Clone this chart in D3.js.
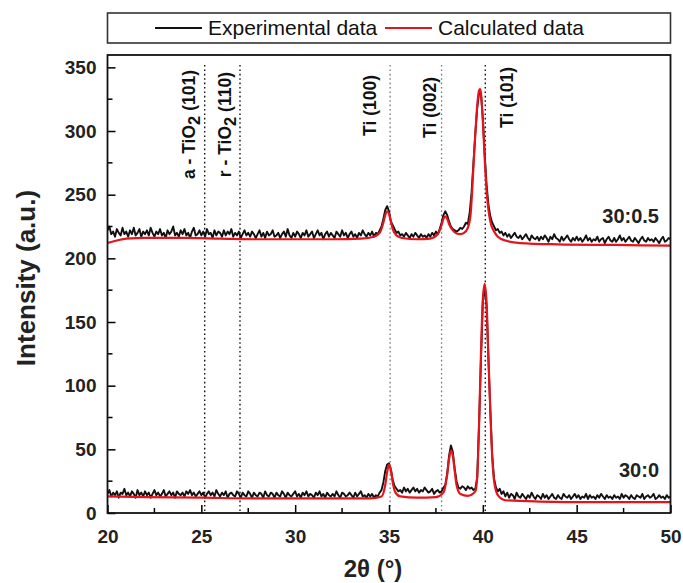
<!DOCTYPE html>
<html><head><meta charset="utf-8">
<script src="https://cdn.jsdelivr.net/npm/d3@7"></script>
<style>body{margin:0;background:#fff}svg{display:block}text{font-family:"Liberation Sans",Arial,sans-serif}</style>
</head><body><svg id="c" width="683" height="583"></svg>
<script>
// ---- data ----
const xStart = 20, xStep = 0.1;
// Experimental data, sample 30:0.5 (20.0 .. 50.0 by 0.1)
const exp05 = [
222,225,219,221,217,223,220,218,224,219,
221,217,222,219,224,218,220,223,217,221,
219,222,218,224,220,217,221,219,223,218,
220,216,222,219,221,225,218,220,217,222,
219,223,218,220,216,221,224,218,219,222,
218,221,217,223,219,220,216,222,218,221,
220,217,222,218,221,219,223,217,220,218,
221,216,219,222,218,220,217,221,219,216,
219,222,217,220,216,221,218,219,222,217,
218,220,216,219,221,217,223,218,216,220,
217,221,219,216,220,218,222,217,219,221,
216,219,222,218,220,215,219,221,217,220,
218,216,221,219,217,222,218,220,216,219,
221,217,219,216,220,218,222,219,217,220,
218,221,217,220,219,222,225,231,238,241,
237,229,226,223,220,221,218,219,217,220,
218,216,219,217,220,218,216,219,217,218,
216,219,217,220,218,221,219,223,228,234,
237,234,229,225,223,222,221,222,224,223,
225,228,227,236,252,275,298,318,330,329,
310,282,258,242,233,228,225,222,223,220,
221,218,220,217,219,216,218,220,217,216,
218,215,217,219,216,214,218,216,215,217,
214,217,215,218,216,213,217,215,219,216,
215,213,217,214,216,218,215,213,216,214,
217,214,216,213,215,218,214,216,213,215,
214,217,213,215,216,212,215,217,214,213,
216,213,215,218,214,216,213,215,217,214,
213,216,214,212,215,217,214,213,216,214,
215,213,216,214,212,215,217,213,214,216,
215];
// Experimental data, sample 30:0
const exp00 = [
15,18,13,16,14,17,12,16,15,19,
14,16,13,17,15,12,18,14,16,13,
17,14,16,12,15,18,14,16,13,15,
18,13,15,17,14,16,12,17,15,14,
16,13,17,15,18,14,16,13,15,17,
14,16,12,15,17,14,16,13,18,15,
13,16,14,17,12,15,16,14,13,17,
15,12,16,14,13,17,15,12,16,14,
13,16,15,12,17,14,13,16,15,12,
16,14,13,17,15,12,16,14,13,15,
17,13,15,12,16,14,17,13,15,14,
12,16,14,17,13,15,12,16,14,13,
15,13,17,14,12,16,15,13,14,16,
14,12,16,13,15,17,13,14,12,15,
13,15,12,14,13,16,18,24,33,38,
39,34,26,21,19,17,18,16,20,17,
19,16,18,20,17,19,16,18,17,20,
18,16,17,19,15,17,18,16,17,20,
22,31,45,53,48,35,25,20,19,21,
20,18,21,19,20,18,19,28,70,120,
165,178,162,120,80,45,27,20,17,19,
15,17,13,16,12,15,14,11,16,13,
12,15,13,11,14,12,16,13,11,14,
13,11,15,12,14,11,13,15,12,11,
14,12,11,15,13,12,14,11,13,15,
12,14,11,13,12,15,11,14,12,13,
11,14,12,15,13,11,14,12,13,11,
14,12,13,11,15,12,14,13,11,14,
12,11,14,13,12,15,11,13,14,12,
13,15,11,12,14,12,13,11,14,12,
13];
// Calculated data [2θ, intensity]
const calc05 = [[20,212],[20.5,214],[21,215.5],[22,216],[24,216],[26,215.5],[28,215],[30,215],[32,215],[33.5,215.5],[34.2,217],[34.5,220],[34.7,228],[34.8,234],[34.9,237],[35.0,235],[35.1,229],[35.2,223],[35.4,218],[35.7,216],[36.5,215],[37.2,215.5],[37.6,219],[37.8,226],[37.9,231],[38.0,233],[38.1,231],[38.2,227],[38.4,222],[38.6,219.5],[38.8,219],[39.0,220],[39.2,224],[39.35,235],[39.5,272],[39.6,298],[39.7,320],[39.8,332],[39.85,333],[39.9,330],[40.0,308],[40.1,278],[40.2,253],[40.3,238],[40.4,229],[40.6,221],[40.8,217],[41.2,214],[42,212],[44,211],[47,210.5],[50,210]];
const calc00 = [[20,13],[22,12.5],[25,12],[28,11.5],[31,11.5],[34,11.5],[34.6,13],[34.8,22],[34.9,32],[35.0,38],[35.1,34],[35.2,24],[35.35,16],[35.6,13],[36.5,12],[37.5,12.5],[37.9,16],[38.1,30],[38.2,42],[38.3,49],[38.4,45],[38.5,33],[38.6,22],[38.8,15],[39.2,13.5],[39.6,17],[39.7,28],[39.8,70],[39.9,125],[40.0,168],[40.1,180],[40.2,165],[40.3,122],[40.4,80],[40.5,44],[40.6,25],[40.8,14],[41.2,10],[43,9],[46,8.5],[50,8.5]];
// Reference lines
const refPos = [25.18, 27.06, 35.06, 37.80, 40.13];
const refLabels = [["a - TiO","2"," (101)"],["r - TiO","2"," (110)"],["Ti (100)"],["Ti (002)"],["Ti (101)"]];
const refColors = ["#000","#000","#777","#777","#000"];
const sampleLabels = ["30:0.5","30:0"];
const xTicks = [20,25,30,35,40,45,50];
const yTicks = [0,50,100,150,200,250,300,350];
const legendLabels = ["Experimental data","Calculated data"];
const seriesColors = ["#111","#e3141c"];

// ---- drawing ----
const svg = d3.select("#c");
const x = d3.scaleLinear().domain([20,50]).range([107.5,670.5]);
const y = d3.scaleLinear().domain([0,359.7]).range([513,55]);
const L=x.range()[0], R=x.range()[1], T=y.range()[1], B=y.range()[0];

// legend
const lg = svg.append("g");
lg.append("rect").attr("x",L).attr("y",13).attr("width",R-L).attr("height",30)
  .attr("fill","none").attr("stroke","#333").attr("stroke-width",1.6);
const legX = [155,385];
legendLabels.forEach((t,i)=>{
  lg.append("line").attr("x1",legX[i]).attr("x2",legX[i]+47).attr("y1",28).attr("y2",28)
    .attr("stroke",seriesColors[i]).attr("stroke-width",2);
  lg.append("text").attr("x",legX[i]+53).attr("y",35).attr("font-size",21)
    .attr("fill","#111").text(t);
});

// reference lines
refPos.forEach((p,i)=>{
  svg.append("line").attr("x1",x(p)).attr("x2",x(p)).attr("y1",T+10).attr("y2",B)
    .attr("stroke",refColors[i]).attr("stroke-width",1.3).attr("stroke-dasharray","1.6,2.8");
});
const labX = [-10,-9,-14,-6,28];
const labTop = [70,72,75,77,67];
refLabels.forEach((parts,i)=>{
  const t = svg.append("text")
    .attr("transform",`translate(${x(refPos[i])+labX[i]},${labTop[i]}) rotate(-90)`)
    .attr("text-anchor","end").attr("font-size",17.5).attr("font-weight","bold").attr("fill","#111");
  if(parts.length===1){ t.text(parts[0]); }
  else {
    t.append("tspan").text(parts[0]);
    t.append("tspan").attr("dy",5).attr("font-size",16.5).text(parts[1]);
    t.append("tspan").attr("dy",-5).text(parts[2]);
  }
});

// series
const lineXY = d3.line().x(d=>x(d[0])).y(d=>y(d[1]));
const toPts = arr => arr.map((v,i)=>[xStart+i*xStep, v]);
const clip = svg.append("clipPath").attr("id","cp").append("rect")
  .attr("x",L).attr("y",T).attr("width",R-L).attr("height",B-T);
const plot = svg.append("g").attr("clip-path","url(#cp)");
[exp05, exp00].forEach(s=>{
  plot.append("path").attr("d",lineXY(toPts(s))).attr("fill","none")
    .attr("stroke",seriesColors[0]).attr("stroke-width",1.9).attr("stroke-linejoin","round");
});
[calc05, calc00].forEach(s=>{
  plot.append("path").attr("d",d3.line().curve(d3.curveMonotoneX).x(d=>x(d[0])).y(d=>y(d[1]))(s))
    .attr("fill","none").attr("stroke",seriesColors[1]).attr("stroke-width",2.2);
});

// sample labels
svg.append("text").attr("x",659).attr("y",223).attr("text-anchor","end")
  .attr("font-size",20).attr("font-weight","bold").attr("fill","#222").text(sampleLabels[0]);
svg.append("text").attr("x",659).attr("y",477).attr("text-anchor","end")
  .attr("font-size",20).attr("font-weight","bold").attr("fill","#222").text(sampleLabels[1]);

// axes
const xAxis = d3.axisBottom(x).tickValues(xTicks).tickSize(-8).tickPadding(17).tickFormat(d3.format("d"));
const gx = svg.append("g").attr("transform",`translate(0,${B})`).call(xAxis);
const xMinor = d3.range(22.5,50,5);
gx.selectAll(".minor").data(xMinor).enter().append("line").attr("class","minor")
  .attr("x1",d=>x(d)).attr("x2",d=>x(d)).attr("y1",0).attr("y2",-5).attr("stroke","#000").attr("stroke-width",1.5);
const yAxis = d3.axisLeft(y).tickValues(yTicks).tickSize(-8).tickPadding(11);
const gy = svg.append("g").attr("transform",`translate(${L},0)`).call(yAxis);
const yMinor = d3.range(25,360,50);
gy.selectAll(".minor").data(yMinor).enter().append("line").attr("class","minor")
  .attr("x1",0).attr("x2",5).attr("y1",d=>y(d)).attr("y2",d=>y(d)).attr("stroke","#000").attr("stroke-width",1.5);
[gx,gy].forEach(g=>{
  g.select(".domain").remove();
  g.selectAll(".tick line").attr("stroke","#000").attr("stroke-width",1.5);
  g.selectAll(".tick text").attr("font-size",19).attr("font-weight","bold").attr("fill","#222")
   .attr("font-family","'Liberation Sans',Arial,sans-serif");
});
svg.append("rect").attr("x",L).attr("y",T).attr("width",R-L).attr("height",B-T)
  .attr("fill","none").attr("stroke","#111").attr("stroke-width",1.8);

// titles
svg.append("text").attr("transform","translate(35,278) rotate(-90)").attr("text-anchor","middle")
  .attr("font-size",26).attr("font-weight","bold").attr("fill","#222").text("Intensity (a.u.)");
svg.append("text").attr("x",373).attr("y",577).attr("text-anchor","middle")
  .attr("font-size",24).attr("font-weight","bold").attr("fill","#222").text("2θ (°)");
</script></body></html>
